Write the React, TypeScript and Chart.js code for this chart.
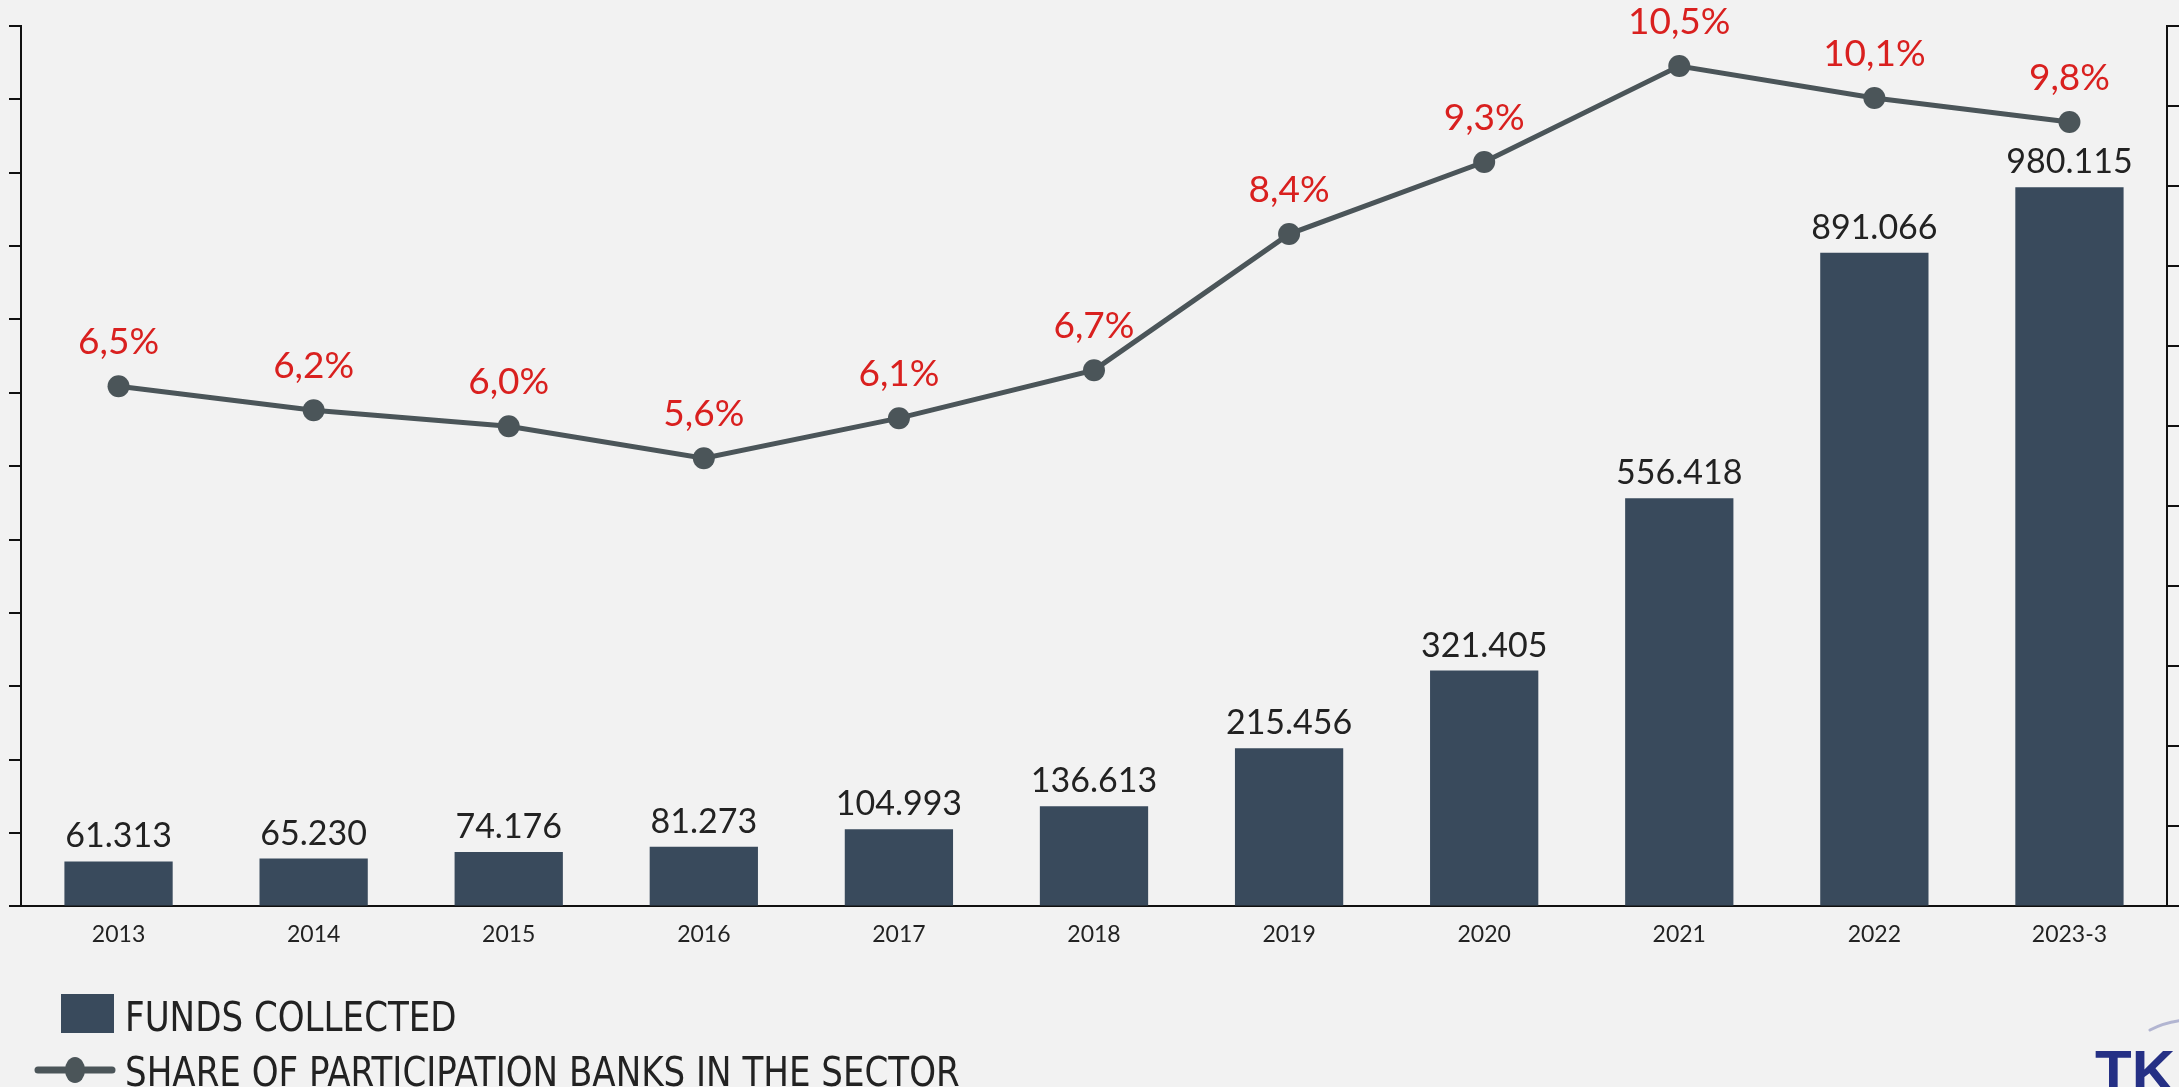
import React, { useEffect, useRef } from "react";
import { Chart, registerables } from "chart.js";

Chart.register(...registerables);

const categories = ["2013", "2014", "2015", "2016", "2017", "2018", "2019", "2020", "2021", "2022", "2023-3"];
const fundsCollected = [61313, 65230, 74176, 81273, 104993, 136613, 215456, 321405, 556418, 891066, 980115];
const sharePct = [6.5, 6.2, 6.0, 5.6, 6.1, 6.7, 8.4, 9.3, 10.5, 10.1, 9.8];
const legendLabels = ["FUNDS COLLECTED", "SHARE OF PARTICIPATION BANKS IN THE SECTOR"];

const W = 2179;
const H = 1087;
const BAR = "#394A5C";
const LINE = "#4B5559";
const RED = "#D9201F";
const TXT = "#222222";
const FONT = "Lato, 'Open Sans', sans-serif";
const NARROW = "'Liberation Sans Narrow', 'DejaVu Sans Condensed', 'Noto Sans', sans-serif";

const fmtThousands = (n: number) => String(n).replace(/\B(?=(\d{3})+(?!\d))/g, ".");
const fmtPct = (v: number) => v.toFixed(1).replace(".", ",") + "%";

const valueLabels = {
  id: "valueLabels",
  afterDatasetsDraw(chart: any) {
    const ctx = chart.ctx;
    ctx.save();
    ctx.textAlign = "center";
    ctx.textBaseline = "alphabetic";
    ctx.font = `34px ${FONT}`;
    ctx.fillStyle = TXT;
    chart.getDatasetMeta(0).data.forEach((el: any, i: number) => {
      ctx.fillText(fmtThousands(fundsCollected[i]), el.x, el.y - 14);
    });
    ctx.font = `37px ${FONT}`;
    ctx.fillStyle = RED;
    chart.getDatasetMeta(1).data.forEach((el: any, i: number) => {
      ctx.fillText(fmtPct(sharePct[i]), el.x, el.y - 32);
    });
    ctx.restore();
  },
};

const customLegend = {
  id: "customLegend",
  afterDraw(chart: any) {
    const ctx = chart.ctx;
    ctx.save();
    // bar item
    ctx.fillStyle = BAR;
    ctx.fillRect(61, 994, 53, 39);
    // line item
    ctx.strokeStyle = LINE;
    ctx.lineWidth = 7;
    ctx.lineCap = "round";
    ctx.beginPath();
    ctx.moveTo(38, 1070);
    ctx.lineTo(112, 1070);
    ctx.stroke();
    ctx.fillStyle = LINE;
    ctx.beginPath();
    ctx.ellipse(75, 1070, 10, 13, 0, 0, Math.PI * 2);
    ctx.fill();
    // texts, slightly condensed
    ctx.fillStyle = TXT;
    ctx.font = `41px ${NARROW}`;
    ctx.textAlign = "left";
    ctx.textBaseline = "alphabetic";
    ctx.save();
    ctx.translate(125, 0);
    ctx.scale(0.925, 1);
    ctx.fillText(legendLabels[0], 0, 1031);
    ctx.fillText(legendLabels[1], 0, 1086);
    ctx.restore();
    // logo fragment
    ctx.strokeStyle = "rgba(60,70,150,0.35)";
    ctx.lineWidth = 3;
    ctx.beginPath();
    ctx.moveTo(2150, 1030);
    ctx.quadraticCurveTo(2165, 1022, 2185, 1020);
    ctx.stroke();
    ctx.fillStyle = "#253085";
    ctx.font = `bold 60px 'Liberation Sans', sans-serif`;
    ctx.fillText("TKBB", 2095, 1092);
    ctx.restore();
  },
};

export default function App() {
  const ref = useRef<HTMLCanvasElement | null>(null);
  useEffect(() => {
    if (!ref.current) return;
    document.body.style.margin = "0";
    document.body.style.background = "#F2F2F2";
    const chart = new Chart(ref.current, {
      type: "bar",
      data: {
        labels: categories,
        datasets: [
          {
            type: "bar",
            label: legendLabels[0],
            data: fundsCollected,
            backgroundColor: BAR,
            yAxisID: "y",
            barPercentage: 0.555,
            categoryPercentage: 1,
            order: 2,
          },
          {
            type: "line",
            label: legendLabels[1],
            data: sharePct,
            borderColor: LINE,
            backgroundColor: LINE,
            borderWidth: 5,
            pointRadius: 11,
            pointBorderWidth: 0,
            pointBackgroundColor: LINE,
            tension: 0,
            yAxisID: "y2",
            order: 1,
          } as any,
        ],
      },
      options: {
        responsive: false,
        animation: false,
        devicePixelRatio: 1,
        layout: { padding: { left: 9, right: 0, top: 26, bottom: 125 } },
        plugins: { legend: { display: false }, tooltip: { enabled: false } },
        scales: {
          x: {
            grid: { display: false, drawTicks: false },
            border: { display: true, color: "#111", width: 2 },
            ticks: { color: TXT, font: { family: FONT, size: 23 }, padding: 14 },
          },
          y: {
            position: "left",
            min: 0,
            max: 1200000,
            ticks: { display: false, stepSize: 100000 },
            grid: { display: true, drawOnChartArea: false, drawTicks: true, tickLength: 12, color: "#111", lineWidth: 2 },
            border: { display: true, color: "#111", width: 2 },
          },
          y2: {
            position: "right",
            min: 0,
            max: 11,
            ticks: { display: false, stepSize: 1 },
            grid: { display: true, drawOnChartArea: false, drawTicks: true, tickLength: 12, color: "#111", lineWidth: 2 },
            border: { display: true, color: "#111", width: 2 },
          },
        },
      },
      plugins: [valueLabels, customLegend],
    });
    return () => chart.destroy();
  }, []);
  return (
    <div style={{ position: "fixed", left: 0, top: 0, width: W, height: H, background: "#F2F2F2" }}>
      <canvas ref={ref} width={W} height={H} style={{ display: "block" }} />
    </div>
  );
}
